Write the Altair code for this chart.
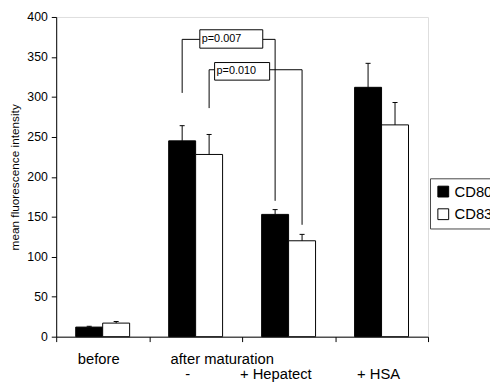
import altair as alt
import pandas as pd

# ---- data ----
series = ["CD80", "CD83"]
cd80 = [12, 245, 153, 312]
cd80_err = [1, 19, 6, 30]
cd83 = [17, 228, 120, 265]
cd83_err = [2, 25, 8, 28]
line1_labels = ["before", "after maturation", "", ""]
line2_labels = ["", "-", "+ Hepatect", "+ HSA"]
y_ticks = [0, 50, 100, 150, 200, 250, 300, 350, 400]

# significance brackets (group 1 -> group 2, same series)
p_text = ["p=0.007", "p=0.010"]
p_series = ["CD80", "CD83"]
p_left_low = [305, 286]
p_top = [372, 334]
p_right_low = [170, 140]
p_box_x = [1.045, 1.204]
p_box_x2 = [1.722, 1.796]
p_box_y = [361, 321]
p_box_y2 = [384, 343]

FONT = "Liberation Sans"
BW = 0.29  # bar width in group units
CAP = 0.027

rows = []
for i in range(4):
    for s, vals, errs in (("CD80", cd80, cd80_err), ("CD83", cd83, cd83_err)):
        x0 = i - BW if s == "CD80" else i
        xc = x0 + BW / 2
        rows.append(dict(series=s, value=vals[i], base=0, top=vals[i] + errs[i],
                         x0=x0, x1=x0 + BW, xc=xc, cl=xc - CAP, cr=xc + CAP))
bars = pd.DataFrame(rows)

def center(series_name, group):
    return group - BW / 2 if series_name == "CD80" else group + BW / 2

vseg, hseg = [], []
for k in range(2):
    lx = center(p_series[k], 1)
    rx = center(p_series[k], 2)
    vseg.append(dict(x=lx, y=p_left_low[k], y2=p_top[k]))
    vseg.append(dict(x=rx, y=p_right_low[k], y2=p_top[k]))
    hseg.append(dict(x=lx, x2=p_box_x[k], y=p_top[k]))
    hseg.append(dict(x=p_box_x2[k], x2=rx, y=p_top[k]))
vseg = pd.DataFrame(vseg)
hseg = pd.DataFrame(hseg)
boxes = pd.DataFrame(dict(x=p_box_x, x2=p_box_x2, y=p_box_y, y2=p_box_y2,
                          text=p_text, ym=[(a + b) / 2 for a, b in zip(p_box_y, p_box_y2)]))

xscale = alt.Scale(domain=[-0.5, 3.5], nice=False, zero=False)
yscale = alt.Scale(domain=[0, 400], nice=False)

xaxis = alt.Axis(values=[-0.5, 0.5, 1.5, 2.5, 3.5], labels=False, grid=False,
                 title=None, tickSize=5, domainColor="black", tickColor="black")
yaxis = alt.Axis(values=y_ticks, grid=False, title="mean fluorescence intensity",
                 tickSize=5, labelPadding=4, labelFontSize=12.5, labelFont=FONT,
                 titleFont=FONT, titleFontSize=12, titleFontWeight="normal",
                 titlePadding=5, domainColor="black", tickColor="black",
                 labelColor="black", titleColor="black")

base = alt.Chart(bars)

bar = base.mark_rect(stroke="black", strokeWidth=1).encode(
    x=alt.X("x0:Q", scale=xscale, axis=xaxis),
    x2="x1:Q",
    y=alt.Y("value:Q", scale=yscale, axis=yaxis),
    y2="base:Q",
    fill=alt.Fill("series:N",
                  scale=alt.Scale(domain=series, range=["black", "white"]),
                  legend=alt.Legend(orient="none", legendX=380, legendY=164,
                                    title=None, symbolType="square",
                                    symbolSize=121, symbolStrokeColor="black",
                                    symbolStrokeWidth=1, labelFontSize=15,
                                    labelFont=FONT, labelColor="black",
                                    strokeColor="#444", fillColor="white",
                                    padding=6, rowPadding=7, labelOffset=4)),
)

err = base.mark_rule(color="black", strokeWidth=1).encode(
    x="xc:Q", y="value:Q", y2="top:Q")
cap = base.mark_rule(color="black", strokeWidth=1).encode(
    x="cl:Q", x2="cr:Q", y="top:Q")

vlines = alt.Chart(vseg).mark_rule(color="black", strokeWidth=1).encode(
    x="x:Q", y="y:Q", y2="y2:Q")
hlines = alt.Chart(hseg).mark_rule(color="black", strokeWidth=1).encode(
    x="x:Q", x2="x2:Q", y="y:Q")
boxrect = alt.Chart(boxes).mark_rect(fill="white", stroke="black", strokeWidth=1).encode(
    x="x:Q", x2="x2:Q", y="y:Q", y2="y2:Q")
boxtext = alt.Chart(boxes).mark_text(align="left", baseline="middle", dx=2,
                                     font=FONT, fontSize=11, color="black").encode(
    x="x:Q", y="ym:Q", text="text:N")

lab = pd.DataFrame(dict(g=[0, 1, 2, 3], l1=line1_labels, l2=line2_labels))
l1_dx = [-4, 27, 0, 0]
l2_dx = [0, -8, -13, -3]
labels = []
for i in range(4):
    d = lab.iloc[[i]]
    if line1_labels[i]:
        labels.append(alt.Chart(d).mark_text(font=FONT, fontSize=15, color="black",
                                             baseline="alphabetic", dx=l1_dx[i]).encode(
            x="g:Q", y=alt.value(353), text="l1:N"))
    if line2_labels[i]:
        labels.append(alt.Chart(d).mark_text(font=FONT, fontSize=15, color="black",
                                             baseline="alphabetic", dx=l2_dx[i]).encode(
            x="g:Q", y=alt.value(368), text="l2:N"))

chart = alt.layer(bar, err, cap, vlines, hlines, boxrect, boxtext, *labels).properties(
    width=378, height=325,
    autosize=alt.AutoSizeParams(type="none"),
    padding={"left": 49, "top": 6, "right": 63, "bottom": 47},
).configure_view(stroke="#999", strokeWidth=1).configure(background="white")

chart.save("out.html", embed_options={"renderer": "svg", "actions": False})
